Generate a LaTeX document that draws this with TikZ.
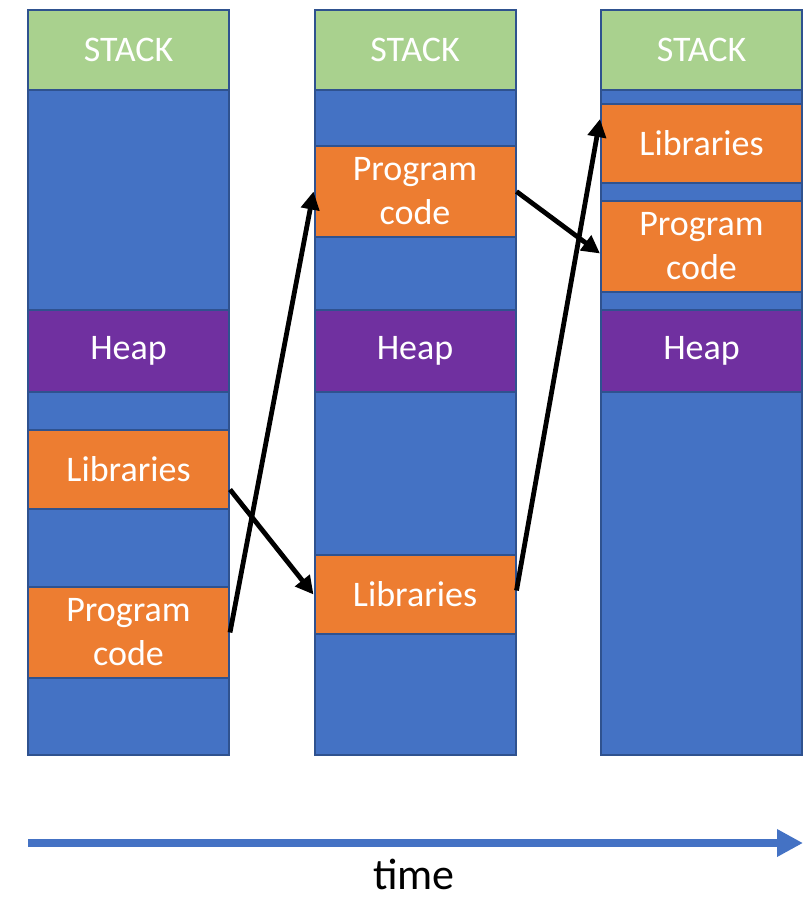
\documentclass[tikz,border=0pt]{standalone}
\usepackage{fontspec}
\setmainfont{Carlito}
\usetikzlibrary{arrows.meta,
                positioning
            }
\definecolor{memblue}{HTML}{4472C4}
\definecolor{memedge}{HTML}{2F528F}
\definecolor{stackgreen}{HTML}{A9D18E}
\definecolor{heappurple}{HTML}{7030A0}
\definecolor{codeorange}{HTML}{ED7D31}

\begin{document}
\begin{tikzpicture}[x=0.5pt, y=-0.5pt,
    block/.style={draw=memedge, line width=1pt, minimum width=100.5pt, inner sep=0pt,
                  text=white, font=\fontsize{18}{22}\selectfont, align=center},
    column/.style={block, fill=memblue, minimum height=372.5pt},
    stackbox/.style={block, fill=stackgreen, minimum height=40pt},
    heapbox/.style={block, fill=heappurple, minimum height=41pt},
    libbox/.style={block, fill=codeorange, minimum height=39.5pt},
    codebox/.style={block, fill=codeorange, minimum height=45.5pt},
    move/.style={-{Triangle[length=9pt, width=9pt]}, line width=2.4pt, black}
]
            \useasboundingbox (0,0) rectangle (811,901);
            % three snapshots of memory
            \node[column] (col1) at (128.5, 382.5) {};
            \node[column] (col2) at (415, 382.5) {};
            \node[column] (col3) at (701.5, 382.5) {};

            \node[stackbox] (stack1) at (128.5, 50) {STACK};
            \node[stackbox] (stack2) at (415, 50) {STACK};
            \node[stackbox] (stack3) at (701.5, 50) {STACK};

            \node[heapbox] (heap1) at (128.5, 351) {Heap};
            \node[heapbox] (heap2) at (415, 351) {Heap};
            \node[heapbox] (heap3) at (701.5, 351) {Heap};

            \node[libbox] (lib1) at (128.5, 469.5) {Libraries};
            \node[codebox] (code1) at (128.5, 632.5) {Program\\code};

            \node[codebox] (code2) at (415, 191.5) {Program\\code};
            \node[libbox] (lib2) at (415, 594.5) {Libraries};

            \node[libbox] (lib3) at (701.5, 143.5) {Libraries};
            \node[codebox] (code3) at (701.5, 246) {Program\\code};

            % relocations
            \draw[move] (code1.east) -- (code2.west);
            \draw[move] ([yshift=-10pt]lib1.east) -- (lib2.west);
            \draw[move] (code2.east) -- ([yshift=-27pt]code3.north west);
            \draw[move] ([yshift=2pt]lib2.east) -- ([yshift=-8pt]lib3.north west);

            % time axis
            \coordinate (t0) at (28, 843);
            \coordinate (t1) at (803, 843);
            \draw[-{Triangle[length=13pt, width=13pt]}, line width=4pt, memblue] (t0) -- (t1);
            \node[font=\fontsize{22}{26}\selectfont, inner sep=0pt] (time) at (414, 874) {time};
        \end{tikzpicture}
\end{document}
